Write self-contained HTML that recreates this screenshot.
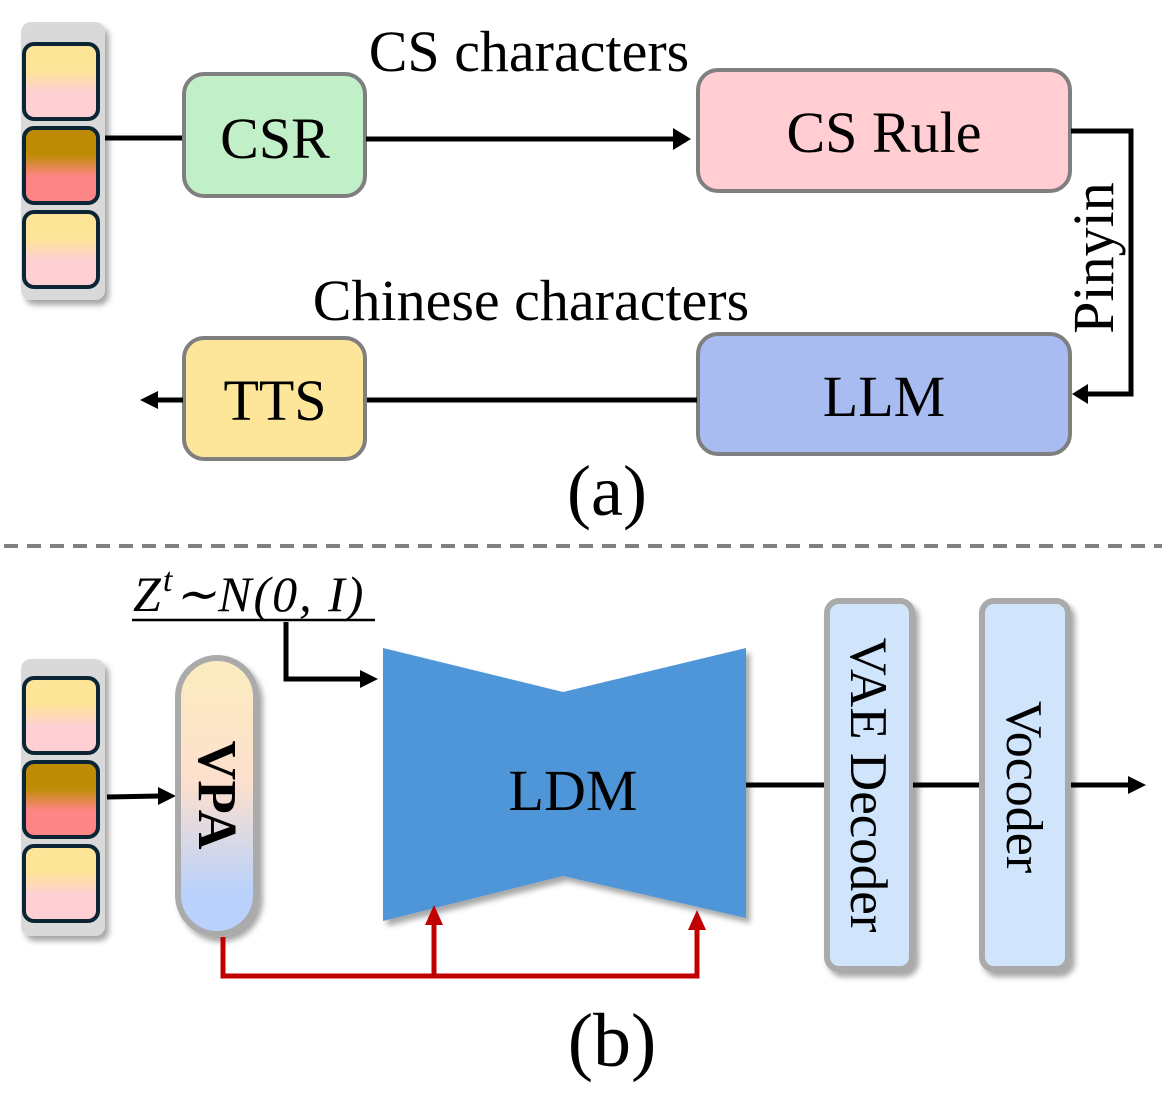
<!DOCTYPE html>
<html><head><meta charset="utf-8"><style>body{margin:0;background:#fff}svg{display:block}</style></head><body>
<svg width="1162" height="1097" viewBox="0 0 1162 1097" xmlns="http://www.w3.org/2000/svg" font-family="Liberation Serif, serif">
<defs>
<linearGradient id="cy" x1="0" y1="0" x2="0" y2="1"><stop offset="0.35" stop-color="#fde597"/><stop offset="0.65" stop-color="#fecfd3"/></linearGradient>
<linearGradient id="cb" x1="0" y1="0" x2="0" y2="1"><stop offset="0.35" stop-color="#be8c04"/><stop offset="0.65" stop-color="#fe8585"/></linearGradient>
<linearGradient id="vpa" x1="0" y1="0" x2="0" y2="1"><stop offset="0.05" stop-color="#fbebc0"/><stop offset="0.45" stop-color="#fde0cd"/><stop offset="0.85" stop-color="#b9d1fb"/></linearGradient>
<filter id="sh" x="-20%" y="-20%" width="150%" height="150%"><feDropShadow dx="4" dy="5" stdDeviation="3" flood-color="#000" flood-opacity="0.35"/></filter>
</defs>
<g filter="url(#sh)"><rect x="21" y="22" width="84" height="278" rx="10" fill="#d9d9d9"/></g>
<rect x="24" y="44" width="74" height="75" rx="10" fill="url(#cy)" stroke="#0b2535" stroke-width="4"/>
<rect x="24" y="128" width="74" height="75" rx="10" fill="url(#cb)" stroke="#0b2535" stroke-width="4"/>
<rect x="24" y="212" width="74" height="75" rx="10" fill="url(#cy)" stroke="#0b2535" stroke-width="4"/>
<line x1="105" y1="138" x2="183" y2="138" stroke="#000" stroke-width="5"/>
<rect x="184" y="74" width="181" height="122" rx="20" fill="#c1f0c8" stroke="#7f7f7f" stroke-width="4"/>
<text x="275" y="158" font-size="58" text-anchor="middle">CSR</text>
<line x1="366" y1="139" x2="676" y2="139" stroke="#000" stroke-width="5"/>
<path d="M673,128 L691,139 L673,150z" fill="#000"/>
<text x="529" y="71" font-size="58" text-anchor="middle">CS characters</text>
<rect x="698" y="70" width="372" height="121" rx="20" fill="#ffcdd2" stroke="#7f7f7f" stroke-width="4"/>
<text x="884" y="152" font-size="58" text-anchor="middle">CS Rule</text>
<polyline points="1071,131 1131,131 1131,394 1088,394" fill="none" stroke="#000" stroke-width="5"/>
<path d="M1088,384 L1072,394 L1088,404z" fill="#000"/>
<text transform="translate(1113,258) rotate(-90)" font-size="58" text-anchor="middle">Pinyin</text>
<rect x="698" y="334" width="372" height="120" rx="20" fill="#a9bcf1" stroke="#7f7f7f" stroke-width="4"/>
<text x="884" y="416" font-size="58" text-anchor="middle">LLM</text>
<text x="531" y="320" font-size="58" text-anchor="middle">Chinese characters</text>
<line x1="697" y1="400" x2="366" y2="400" stroke="#000" stroke-width="5"/>
<rect x="184" y="338" width="181" height="121" rx="20" fill="#fde699" stroke="#7f7f7f" stroke-width="4"/>
<text x="275" y="420" font-size="58" text-anchor="middle">TTS</text>
<line x1="183" y1="400" x2="155" y2="400" stroke="#000" stroke-width="5"/>
<path d="M158,391 L140,400 L158,409z" fill="#000"/>
<text x="607" y="515" font-size="72" text-anchor="middle">(a)</text>
<line x1="4" y1="546" x2="1162" y2="546" stroke="#808080" stroke-width="4" stroke-dasharray="14,9"/>
<text x="133" y="611" font-size="50" font-style="italic" letter-spacing="2">Z<tspan dy="-20" font-size="34">t</tspan><tspan dy="20">∼N(0, I)</tspan></text>
<line x1="132" y1="620" x2="375" y2="620" stroke="#000" stroke-width="2.5"/>
<polyline points="286,622 286,679 362,679" fill="none" stroke="#000" stroke-width="5"/>
<path d="M360,670 L378,679 L360,688z" fill="#000"/>
<g filter="url(#sh)"><rect x="21" y="659" width="84" height="277" rx="10" fill="#d9d9d9"/></g>
<rect x="24" y="678" width="74" height="75" rx="10" fill="url(#cy)" stroke="#0b2535" stroke-width="4"/>
<rect x="24" y="762" width="74" height="75" rx="10" fill="url(#cb)" stroke="#0b2535" stroke-width="4"/>
<rect x="24" y="846" width="74" height="75" rx="10" fill="url(#cy)" stroke="#0b2535" stroke-width="4"/>
<line x1="107" y1="797" x2="160" y2="796" stroke="#000" stroke-width="5"/>
<path d="M158,787 L176,796 L158,805z" fill="#000"/>
<g filter="url(#sh)"><rect x="178" y="658" width="78" height="276" rx="39" fill="url(#vpa)" stroke="#aaaaaa" stroke-width="6"/></g>
<text transform="translate(199,795) rotate(90)" font-size="55" font-weight="bold" text-anchor="middle">VPA</text>
<g filter="url(#sh)"><polygon points="383,648 563,692 746,648 746,918 563,876 383,921" fill="#5096d8"/></g>
<text x="573" y="810" font-size="58" text-anchor="middle">LDM</text>
<line x1="746" y1="785" x2="826" y2="785" stroke="#000" stroke-width="5"/>
<g filter="url(#sh)"><rect x="827" y="601" width="85" height="368" rx="12" fill="#d0e5fb" stroke="#aaaaaa" stroke-width="6"/></g>
<text transform="translate(851,785) rotate(90)" font-size="53" text-anchor="middle">VAE Decoder</text>
<line x1="913" y1="785" x2="980" y2="785" stroke="#000" stroke-width="5"/>
<g filter="url(#sh)"><rect x="982" y="601" width="86" height="368" rx="12" fill="#d0e5fb" stroke="#aaaaaa" stroke-width="6"/></g>
<text transform="translate(1007,787) rotate(90)" font-size="52" text-anchor="middle">Vocoder</text>
<line x1="1071" y1="785" x2="1130" y2="785" stroke="#000" stroke-width="5"/>
<path d="M1128,776 L1146,785 L1128,794z" fill="#000"/>
<polyline points="223,937 223,976 697,976 697,922" fill="none" stroke="#c00000" stroke-width="5"/>
<line x1="434" y1="976" x2="434" y2="920" stroke="#c00000" stroke-width="5"/>
<path d="M425,925 L434,905 L443,925z" fill="#c00000"/>
<path d="M688,930 L697,910 L706,930z" fill="#c00000"/>
<text x="612" y="1066" font-size="76" text-anchor="middle">(b)</text>
</svg>
</body></html>
